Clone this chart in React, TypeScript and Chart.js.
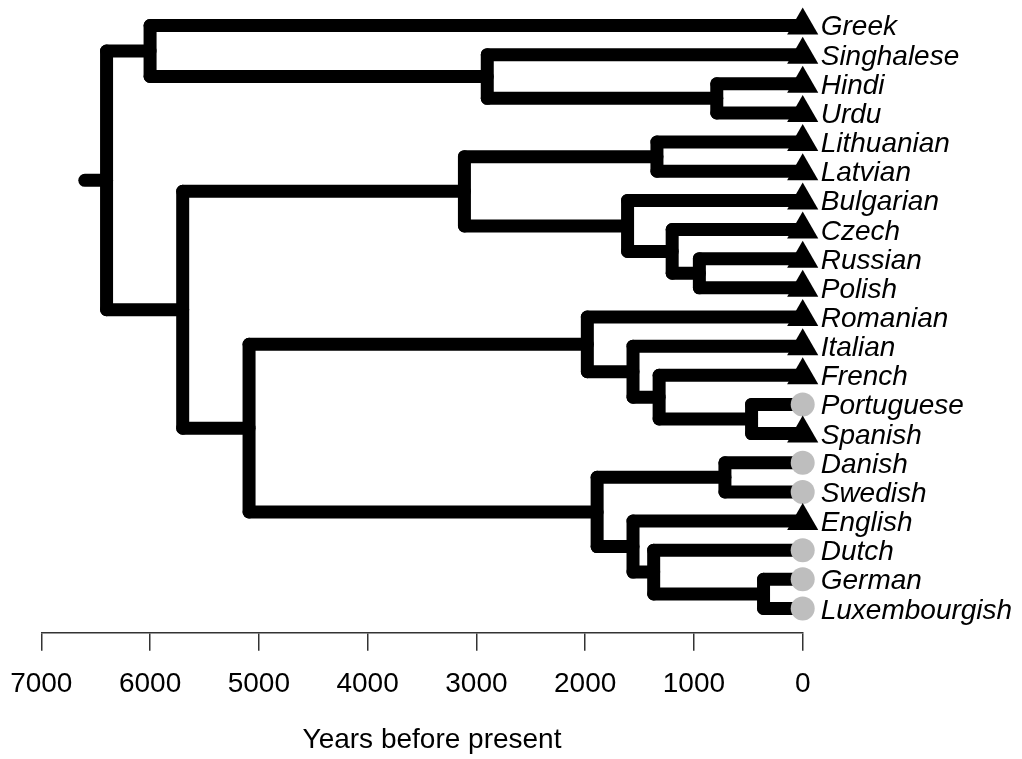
import React, { useEffect, useRef } from 'react';
import { Chart, registerables } from 'chart.js';

Chart.register(...registerables);

// ---- Data ----
const leafNames = [
  'Greek', 'Singhalese', 'Hindi', 'Urdu', 'Lithuanian', 'Latvian', 'Bulgarian',
  'Czech', 'Russian', 'Polish', 'Romanian', 'Italian', 'French', 'Portuguese',
  'Spanish', 'Danish', 'Swedish', 'English', 'Dutch', 'German', 'Luxembourgish',
];
// 'triangle' = black triangle, 'circle' = grey circle
const leafStates = [
  'triangle', 'triangle', 'triangle', 'triangle', 'triangle', 'triangle', 'triangle',
  'triangle', 'triangle', 'triangle', 'triangle', 'triangle', 'triangle', 'circle',
  'triangle', 'circle', 'circle', 'triangle', 'circle', 'circle', 'circle',
];
const nodeNames = [
  'Root', 'GreekIndo', 'IndoIranian', 'HindiUrdu', 'Rest', 'BaltoSlavic', 'Baltic',
  'Slavic', 'CzechRusPol', 'RusPol', 'RomGerm', 'Romance', 'ItaFrePorSpa', 'FrePorSpa',
  'PorSpa', 'Germanic', 'DanSwe', 'EngDutGerLux', 'DutGerLux', 'GerLux',
];
// ages in years before present
const nodeAges = [
  6400, 6000, 2900, 790, 5700, 3110, 1340,
  1610, 1200, 950, 5090, 1980, 1560, 1320,
  470, 1890, 715, 1560, 1370, 360,
];
const nodeChildren = [
  ['GreekIndo', 'Rest'],
  ['Greek', 'IndoIranian'],
  ['Singhalese', 'HindiUrdu'],
  ['Hindi', 'Urdu'],
  ['BaltoSlavic', 'RomGerm'],
  ['Baltic', 'Slavic'],
  ['Lithuanian', 'Latvian'],
  ['Bulgarian', 'CzechRusPol'],
  ['Czech', 'RusPol'],
  ['Russian', 'Polish'],
  ['Romance', 'Germanic'],
  ['Romanian', 'ItaFrePorSpa'],
  ['Italian', 'FrePorSpa'],
  ['French', 'PorSpa'],
  ['Portuguese', 'Spanish'],
  ['DanSwe', 'EngDutGerLux'],
  ['Danish', 'Swedish'],
  ['English', 'DutGerLux'],
  ['Dutch', 'GerLux'],
  ['German', 'Luxembourgish'],
];
const rootStubAge = 6600;
const xTickValues = [0, 1000, 2000, 3000, 4000, 5000, 6000, 7000];
const xTitle = 'Years before present';

// ---- Tree geometry from data ----
type Pos = { age: number; y: number };
function posOf(name: string): Pos {
  const li = leafNames.indexOf(name);
  if (li >= 0) return { age: 0, y: li };
  const ni = nodeNames.indexOf(name);
  const ys = nodeChildren[ni].map((c) => posOf(c).y);
  return { age: nodeAges[ni], y: ys.reduce((a, b) => a + b, 0) / ys.length };
}

function buildSegments() {
  const segs: { x: number; y: number }[][] = [];
  nodeNames.forEach((n, i) => {
    const p = posOf(n);
    const kids = nodeChildren[i].map(posOf);
    const ys = kids.map((k) => k.y);
    segs.push([
      { x: p.age, y: Math.min(...ys) },
      { x: p.age, y: Math.max(...ys) },
    ]);
    kids.forEach((k) => {
      segs.push([
        { x: p.age, y: k.y },
        { x: k.age, y: k.y },
      ]);
    });
  });
  const root = posOf(nodeNames[0]);
  segs.push([
    { x: rootStubAge, y: root.y },
    { x: root.age, y: root.y },
  ]);
  return segs;
}

const FONT = '"Liberation Sans", Arial, Helvetica, sans-serif';

const labelsPlugin = {
  id: 'leafLabels',
  afterDatasetsDraw(chart: any) {
    const { ctx, scales, chartArea } = chart;
    const xs = scales.x;
    const ys = scales.y;
    ctx.save();
    ctx.fillStyle = '#000';
    ctx.font = `italic 28px ${FONT}`;
    ctx.textAlign = 'left';
    ctx.textBaseline = 'alphabetic';
    leafNames.forEach((n, i) => {
      ctx.fillText(n, xs.getPixelForValue(0) + 18, ys.getPixelForValue(i) + 10);
    });
    ctx.font = `28px ${FONT}`;
    ctx.textAlign = 'center';
    ctx.fillText(xTitle, (chartArea.left + chartArea.right) / 2 + 10, chartArea.bottom + 115.5);
    ctx.restore();
  },
};

export default function App() {
  const ref = useRef<HTMLCanvasElement | null>(null);
  useEffect(() => {
    document.body.style.margin = '0';
    const canvas = ref.current!;
    const segs = buildSegments();
    const lineDatasets = segs.map((s) => ({
      type: 'scatter' as const,
      data: s,
      showLine: true,
      borderColor: '#000',
      borderWidth: 13,
      borderCapStyle: 'round' as const,
      borderJoinStyle: 'round' as const,
      pointRadius: 0,
      clip: false as any,
      order: 1,
    }));
    const markerDataset = {
      type: 'scatter' as const,
      data: leafNames.map((_, i) => ({ x: 0, y: i })),
      pointStyle: leafStates.map((s) => (s === 'circle' ? 'circle' : 'triangle')),
      pointRadius: leafStates.map((s) => (s === 'circle' ? 12 : 18)),
      backgroundColor: leafStates.map((s) => (s === 'circle' ? '#bebebe' : '#000')),
      borderWidth: 0,
      showLine: false,
      clip: false as any,
      order: 0,
    };
    const chart = new Chart(canvas, {
      type: 'scatter',
      data: { datasets: [markerDataset as any, ...lineDatasets] },
      options: {
        animation: false,
        responsive: false,
        maintainAspectRatio: false,
        events: [],
        layout: { autoPadding: false, padding: { left: 41.3, right: 219.3, top: 2, bottom: 0 } },
        plugins: {
          legend: { display: false },
          tooltip: { enabled: false },
        },
        scales: {
          x: {
            type: 'linear',
            min: 0,
            max: 7000,
            reverse: true,
            afterBuildTicks: (scale: any) => {
              scale.ticks = xTickValues.map((v) => ({ value: v }));
            },
            afterFit: (scale: any) => {
              scale.height = 126.3;
            },
            ticks: {
              color: '#000',
              font: { family: FONT, size: 28 },
              padding: 17,
              maxRotation: 0,
              autoSkip: false,
              callback: (v: any) => String(v),
            },
            grid: {
              drawOnChartArea: false,
              drawTicks: true,
              tickLength: 18,
              color: '#333',
              lineWidth: 1.5,
            },
            border: { display: true, color: '#333', width: 1.5 },
          },
          y: {
            type: 'linear',
            min: -0.806,
            max: 20.83,
            reverse: true,
            display: false,
          },
        },
      },
      plugins: [labelsPlugin],
    });
    return () => chart.destroy();
  }, []);
  return (
    <div style={{ position: 'fixed', left: 0, top: 0, width: 1022, height: 759 }}>
      <canvas ref={ref} width={1022} height={759} style={{ width: 1022, height: 759, display: 'block' }} />
    </div>
  );
}
